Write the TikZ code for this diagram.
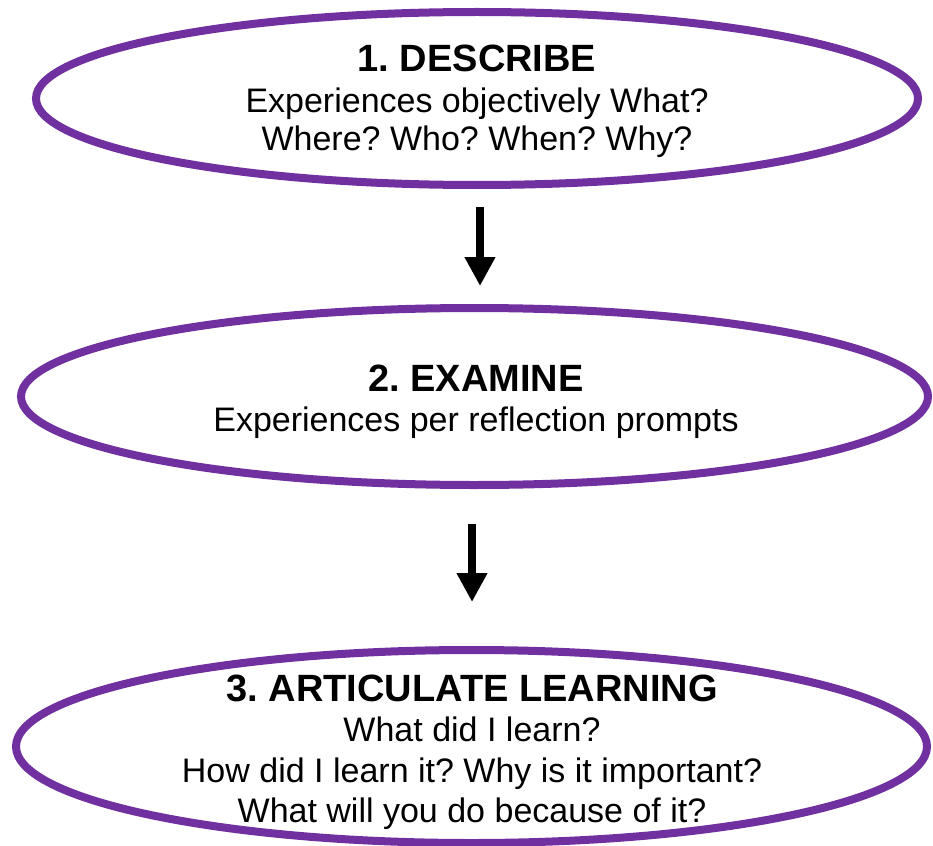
\documentclass[tikz,border=0pt]{standalone}
\usepackage{fontspec}
\setmainfont{Liberation Sans}
\usetikzlibrary{shapes.geometric,arrows.meta}
\definecolor{ellpurple}{HTML}{7030A0}
\frenchspacing
\tikzset{
  ell/.style={ellipse, draw=ellpurple, line width=8pt, inner sep=0pt, fill=white},
  ttl/.style={anchor=base, inner sep=0pt, font=\fontsize{38}{44}\selectfont\bfseries},
  bdy/.style={anchor=base, inner sep=0pt, font=\fontsize{34}{40}\selectfont},
  arr/.style={line width=8pt, -{Triangle[length=29pt,width=29pt]}}
}
\begin{document}
\begin{tikzpicture}[x=1pt,y=-1pt]
\useasboundingbox (0,0) rectangle (933,845);
\fill[white] (0,0) rectangle (933,845);
% ellipses
\node[ell, minimum width=882pt, minimum height=173pt] (e1) at (477,98.5) {};
\node[ell, minimum width=907pt, minimum height=177pt] (e2) at (474.5,396.5) {};
\node[ell, minimum width=911pt, minimum height=193pt] (e3) at (471.5,746.5) {};
% texts
\node[ttl] (t1) at (477,72) {1. DESCRIBE};
\node[bdy] (t1a) at (477,113) {Experiences objectively What?};
\node[bdy] (t1b) at (477,151) {Where? Who? When? Why?};
\node[ttl] (t2) at (476,391) {2. EXAMINE};
\node[bdy] (t2a) at (476,431) {Experiences per reflection prompts};
\node[ttl] (t3) at (472,701) {3. ARTICULATE LEARNING};
\node[bdy] (t3a) at (472,741) {What did I learn?};
\node[bdy] (t3b) at (472,782) {How did I learn it? Why is it important?};
\node[bdy] (t3c) at (472,822) {What will you do because of it?};
% arrows
\draw[arr, shorten <=18pt, shorten >=18pt] ([xshift=3pt]e1.south) -- ([xshift=5.5pt]e2.north);
\draw[arr, shorten <=35pt, shorten >=44pt] ([xshift=-2.5pt]e2.south) -- ([xshift=0.5pt]e3.north);
\end{tikzpicture}
\end{document}
